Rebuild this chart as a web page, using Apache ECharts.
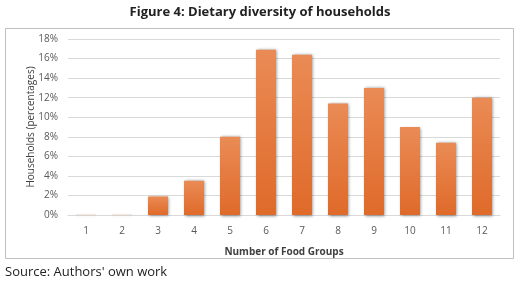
<!DOCTYPE html>
<html><head><meta charset="utf-8">
<script src="https://cdn.jsdelivr.net/npm/echarts@6/dist/echarts.min.js"></script>
<style>html,body{margin:0;padding:0;background:#fff}#c{width:520px;height:290px}</style>
</head><body><div id="c"></div>
<script>
const categories = ['1','2','3','4','5','6','7','8','9','10','11','12'];
const values = [0.02, 0.02, 1.9, 3.5, 8.0, 16.9, 16.4, 11.4, 13.0, 9.0, 7.4, 12.0];
const yTicks = [0, 2, 4, 6, 8, 10, 12, 14, 16, 18];
const titleText = 'Figure 4: Dietary diversity of households';
const sourceText = "Source: Authors' own work";
const yName = 'Households (percentages)';
const xName = 'Number of Food Groups';

const chart = echarts.init(document.getElementById('c'), null, {renderer: 'canvas'});
chart.setOption({
  animation: false,
  title: {text: titleText, left: 'center', top: 1,
    textStyle: {fontFamily: 'Open Sans', fontWeight: 'bold', fontSize: 13, color: '#222'}},
  graphic: [
    {type: 'rect', shape: {x: 5.5, y: 28.5, width: 508, height: 230}, style: {fill: 'none', stroke: '#bfbfbf', lineWidth: 1}, silent: true},
    {type: 'text', left: 5, top: 266, style: {text: sourceText, font: '13px "Open Sans"', fill: '#222'}}
  ],
  grid: {left: 68, right: 20, top: 39, bottom: 75, containLabel: false},
  xAxis: {type: 'category', data: categories,
    name: xName, nameLocation: 'middle', nameGap: 32, nameMoveOverlap: false,
    nameTextStyle: {fontFamily: 'Open Sans', fontSize: 10, fontWeight: 'bold', color: '#404040'},
    axisLine: {lineStyle: {color: '#d9d9d9'}}, axisTick: {show: false},
    axisLabel: {fontFamily: 'Open Sans', fontSize: 10, color: '#595959', margin: 11}},
  yAxis: {type: 'value', min: yTicks[0], max: yTicks[yTicks.length-1], interval: 2,
    name: yName, nameLocation: 'middle', nameGap: 32, nameRotate: 90, nameMoveOverlap: false,
    nameTextStyle: {fontFamily: 'Open Sans', fontSize: 10, color: '#404040'},
    axisLine: {show: false}, axisTick: {show: false},
    splitLine: {lineStyle: {color: '#d9d9d9'}},
    axisLabel: {fontFamily: 'Open Sans', fontSize: 10, color: '#595959', formatter: v => v + '%', margin: 10}},
  series: [{type: 'bar', data: values, barWidth: 20,
    itemStyle: {
      color: new echarts.graphic.LinearGradient(0, 0, 0, 1, [
        {offset: 0, color: '#ea8b55'}, {offset: 1, color: '#df6a2a'}]),
      shadowColor: 'rgba(0,0,0,0.45)', shadowBlur: 3, shadowOffsetX: 0.5, shadowOffsetY: 0.5}
  }]
});
</script></body></html>
